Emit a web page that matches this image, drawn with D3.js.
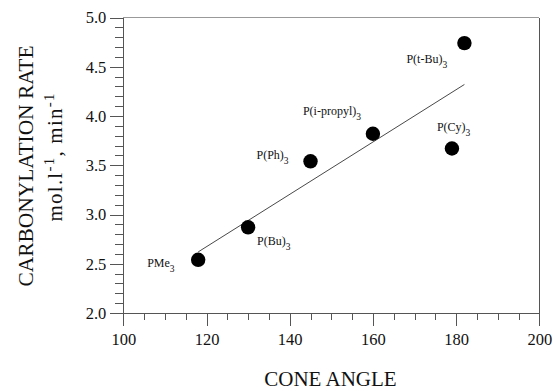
<!DOCTYPE html>
<html>
<head>
<meta charset="utf-8">
<script src="https://cdn.jsdelivr.net/npm/d3@7.9.0/dist/d3.min.js"></script>
<style>
  body { margin: 0; background: #fff; }
  svg text { font-family: "Liberation Serif", "Times New Roman", serif; fill: #111; }
  .axis path, .axis line { stroke: #555; shape-rendering: crispEdges; }
</style>
</head>
<body>
<svg id="chart" width="553" height="391"></svg>
<script>
// ligand data
const ligands = ['PMe', 'P(Bu)', 'P(Ph)', 'P(i-propyl)', 'P(Cy)', 'P(t-Bu)'];
const coneAngles = [118, 130, 145, 160, 179, 182];
const rates = [2.54, 2.87, 3.54, 3.82, 3.67, 4.74];

// fitted straight line (end points)
const fitAngles = [118, 182];
const fitRates = [2.62, 4.32];

const xTicks = [100, 120, 140, 160, 180, 200];
const yTicks = [2.0, 2.5, 3.0, 3.5, 4.0, 4.5, 5.0];

// label placement relative to each dot (dx, dy)
const labelOffsets = [[-51, 7], [9, 18], [-54, -2], [-70, -19], [-15, -18], [-58, 20]];

const svg = d3.select('#chart');
const plot = { left: 123.3, right: 539.3, top: 17.5, bottom: 313 };

const x = d3.scaleLinear().domain([100, 200]).range([plot.left, plot.right]);
const y = d3.scaleLinear().domain([2, 5]).range([plot.bottom, plot.top]);

// frame (top + right)
svg.append('line')
  .attr('x1', plot.left).attr('x2', plot.right).attr('y1', plot.top).attr('y2', plot.top)
  .attr('stroke', '#999').attr('shape-rendering', 'crispEdges');
svg.append('line')
  .attr('x1', plot.right).attr('x2', plot.right).attr('y1', plot.top).attr('y2', plot.bottom)
  .attr('stroke', '#555').attr('shape-rendering', 'crispEdges');

// minor ticks
const xMinor = d3.range(100, 201, 5).filter((d) => d % 20 !== 0);
const yMinor = d3.range(20, 51, 1).map((d) => d / 10).filter((d) => Math.round(d * 10) % 5 !== 0);

svg.append('g').attr('class', 'axis')
  .attr('transform', `translate(0,${plot.bottom})`)
  .call(d3.axisBottom(x).tickValues(xMinor).tickSize(7).tickFormat(''))
  .call((g) => g.select('.domain').remove());
svg.append('g').attr('class', 'axis')
  .attr('transform', `translate(${plot.left},0)`)
  .call(d3.axisLeft(y).tickValues(yMinor).tickSize(8).tickFormat(''))
  .call((g) => g.select('.domain').remove());

// major ticks + axis lines
const xAxis = svg.append('g').attr('class', 'axis')
  .attr('transform', `translate(0,${plot.bottom})`)
  .call(d3.axisBottom(x).tickValues(xTicks).tickSize(13).tickSizeOuter(0).tickPadding(7));
xAxis.selectAll('text').style('font-size', '16.5px');

const yAxis = svg.append('g').attr('class', 'axis')
  .attr('transform', `translate(${plot.left},0)`)
  .call(d3.axisLeft(y).tickValues(yTicks).tickSize(13).tickSizeOuter(0).tickPadding(4)
    .tickFormat(d3.format('.1f')));
yAxis.selectAll('text').style('font-size', '16.5px');

// regression line
svg.append('line')
  .attr('x1', x(fitAngles[0])).attr('y1', y(fitRates[0]))
  .attr('x2', x(fitAngles[1])).attr('y2', y(fitRates[1]))
  .attr('stroke', '#333').attr('stroke-width', 0.9);

// dots
svg.append('g').selectAll('circle')
  .data(coneAngles)
  .join('circle')
  .attr('cx', (d) => x(d))
  .attr('cy', (d, i) => y(rates[i]))
  .attr('r', 7.2)
  .attr('fill', '#000');

// dot labels with subscript 3
const labels = svg.append('g').selectAll('text')
  .data(ligands)
  .join('text')
  .attr('x', (d, i) => x(coneAngles[i]) + labelOffsets[i][0])
  .attr('y', (d, i) => y(rates[i]) + labelOffsets[i][1])
  .style('font-size', '12px');
labels.append('tspan').text((d) => d);
labels.append('tspan').attr('dy', 5).style('font-size', '9.5px').text('3');

// axis titles
svg.append('text')
  .attr('x', 330.5).attr('y', 386)
  .attr('text-anchor', 'middle')
  .style('font-size', '21px')
  .text('CONE ANGLE');

svg.append('text')
  .attr('transform', 'translate(33,166) rotate(-90)')
  .attr('text-anchor', 'middle')
  .attr('textLength', 241)
  .attr('lengthAdjust', 'spacingAndGlyphs')
  .style('font-size', '22px')
  .text('CARBONYLATION RATE');

const yUnit = svg.append('text')
  .attr('transform', 'translate(62,157.5) rotate(-90)')
  .attr('text-anchor', 'middle')
  .attr('textLength', 128)
  .attr('lengthAdjust', 'spacing')
  .style('font-size', '21px');
yUnit.append('tspan').text('mol.l');
yUnit.append('tspan').attr('dy', -8).style('font-size', '15px').text('-1');
yUnit.append('tspan').attr('dy', 8).text(', min');
yUnit.append('tspan').attr('dy', -8).style('font-size', '15px').text('-1');
</script>
</body>
</html>
